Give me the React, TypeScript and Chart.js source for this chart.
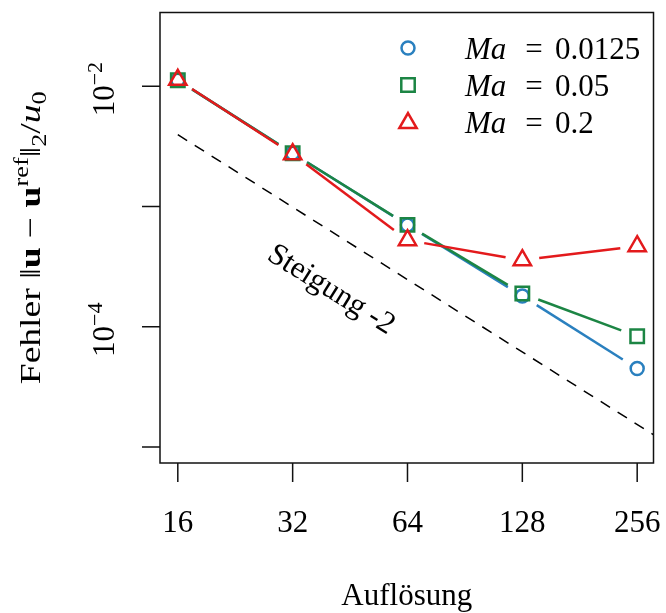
import React, { useEffect, useRef } from 'react';
import { Chart, registerables } from 'chart.js';

Chart.register(...registerables);

// ---- data ----
const resolutions = [16, 32, 64, 128, 256];
const errorMa00125 = [0.0112, 2.77e-3, 7.0e-4, 1.8e-4, 4.5e-5];
const errorMa005 = [0.0112, 2.77e-3, 7.03e-4, 1.89e-4, 8.34e-5];
const errorMa02 = [0.0113, 2.72e-3, 5.24e-4, 3.58e-4, 4.68e-4];
const slopeRefX = [16, 320];
const slopeRefY = [3.95e-3, 9.875e-6];
const maLabels = ['0.0125', '0.05', '0.2'];
const xTickLabels = ['16', '32', '64', '128', '256'];
const yTickValues = [1e-2, 1e-3, 1e-4, 1e-5];
const yTickExponents = ['\u22122', '', '\u22124', ''];
const slopeText = 'Steigung -2';
const xTitle = 'Aufl\u00f6sung';

const BLUE = '#2A80BF';
const GREEN = '#1C8544';
const RED = '#E31A1C';

const SERIF = '"Liberation Serif", "DejaVu Serif", serif';
const F = (s: number, style = '') => `${style} ${s}px ${SERIF}`.trim();

type Seg = { t: string; f: string; dy?: number };

function richWidth(ctx: CanvasRenderingContext2D, segs: Seg[]) {
  let w = 0;
  for (const s of segs) {
    ctx.font = s.f;
    w += ctx.measureText(s.t).width;
  }
  return w;
}
function drawRich(ctx: CanvasRenderingContext2D, segs: Seg[], x: number, y: number) {
  let cx = x;
  for (const s of segs) {
    ctx.font = s.f;
    ctx.fillText(s.t, cx, y + (s.dy || 0));
    cx += ctx.measureText(s.t).width;
  }
}

function drawMarker(ctx: CanvasRenderingContext2D, kind: string, x: number, y: number, color: string) {
  ctx.save();
  ctx.strokeStyle = color;
  ctx.lineWidth = 2.5;
  ctx.beginPath();
  if (kind === 'circle') {
    ctx.arc(x, y, 6.5, 0, Math.PI * 2);
  } else if (kind === 'rect') {
    const h = 9.5 * Math.SQRT1_2;
    ctx.rect(x - h, y - h, 2 * h, 2 * h);
  } else {
    const r = 10;
    for (let k = 0; k < 3; k++) {
      const a = (k * 2 * Math.PI) / 3;
      const px = x + Math.sin(a) * r;
      const py = y - Math.cos(a) * r;
      if (k === 0) ctx.moveTo(px, py);
      else ctx.lineTo(px, py);
    }
    ctx.closePath();
  }
  ctx.stroke();
  ctx.restore();
}

const GAP = 17;

const customPlugin = {
  id: 'customDecor',
  beforeDatasetDraw(chart: any, args: any) {
    const idx = args.index;
    const ds = chart.data.datasets[idx];
    if (!ds.gapLine) return;
    const meta = args.meta;
    const ctx: CanvasRenderingContext2D = chart.ctx;
    ctx.save();
    ctx.strokeStyle = ds.borderColor;
    ctx.lineWidth = 2.5;
    ctx.lineCap = 'butt';
    for (let i = 0; i < meta.data.length - 1; i++) {
      const a = meta.data[i];
      const b = meta.data[i + 1];
      const dx = b.x - a.x;
      const dy = b.y - a.y;
      const len = Math.hypot(dx, dy);
      if (len <= 2 * GAP) continue;
      const ux = dx / len;
      const uy = dy / len;
      ctx.beginPath();
      ctx.moveTo(a.x + ux * GAP, a.y + uy * GAP);
      ctx.lineTo(b.x - ux * GAP, b.y - uy * GAP);
      ctx.stroke();
    }
    ctx.restore();
  },
  afterDraw(chart: any) {
    const ctx: CanvasRenderingContext2D = chart.ctx;
    const { left, right, top, bottom } = chart.chartArea;
    const xs = chart.scales.x;
    const ys = chart.scales.y;
    ctx.save();
    ctx.fillStyle = '#000';
    ctx.strokeStyle = '#111';
    ctx.lineWidth = 1.5;
    // box
    ctx.strokeRect(left, top, right - left, bottom - top);
    // ticks
    ctx.beginPath();
    resolutions.forEach((v) => {
      const px = xs.getPixelForValue(v);
      ctx.moveTo(px, bottom);
      ctx.lineTo(px, bottom + 19);
    });
    yTickValues.forEach((v) => {
      const py = ys.getPixelForValue(v);
      ctx.moveTo(left, py);
      ctx.lineTo(left - 18, py);
    });
    ctx.stroke();
    // x tick labels
    ctx.textBaseline = 'alphabetic';
    ctx.textAlign = 'center';
    ctx.font = F(31);
    resolutions.forEach((v, i) => {
      ctx.fillText(xTickLabels[i], xs.getPixelForValue(v), 532);
    });
    // x title
    ctx.fillText(xTitle, (left + right) / 2, 605);
    ctx.textAlign = 'left';
    // y tick labels (rotated)
    yTickValues.forEach((v, i) => {
      const exp = yTickExponents[i];
      if (!exp) return;
      const py = ys.getPixelForValue(v);
      const segs: Seg[] = [
        { t: '10', f: F(31) },
        { t: exp, f: F(22), dy: -12 },
      ];
      const w = richWidth(ctx, segs);
      ctx.save();
      ctx.translate(114, py + 3);
      ctx.rotate(-Math.PI / 2);
      drawRich(ctx, segs, -w / 2, 0);
      ctx.restore();
    });
    // y title
    {
      const segs: Seg[] = [
        { t: 'Fehler ', f: F(30) },
        { t: '\u2016', f: F(30) },
        { t: 'u', f: F(30, 'bold') },
        { t: ' \u2212 ', f: F(30) },
        { t: 'u', f: F(30, 'bold') },
        { t: 'ref', f: F(21), dy: -12 },
        { t: '\u2016', f: F(30) },
        { t: '2', f: F(21), dy: 6 },
        { t: '/', f: F(30) },
        { t: 'u', f: F(30, 'italic') },
        { t: '0', f: F(21), dy: 6 },
      ];
      const w = richWidth(ctx, segs);
      const target = 293;
      const k = target / w;
      ctx.save();
      ctx.translate(40, (top + bottom) / 2);
      ctx.rotate(-Math.PI / 2);
      ctx.scale(k, 1);
      drawRich(ctx, segs, -w / 2, 0);
      ctx.restore();
    }
    // legend
    const kinds = ['circle', 'rect', 'triangle'];
    const cols = [BLUE, GREEN, RED];
    const markerY = [48, 85, 123];
    const baseY = [59, 96, 133];
    for (let i = 0; i < 3; i++) {
      drawMarker(ctx, kinds[i], 408, markerY[i], cols[i]);
      ctx.fillStyle = '#000';
      ctx.textAlign = 'left';
      ctx.font = F(31, 'italic');
      ctx.fillText('Ma', 465, baseY[i]);
      ctx.textAlign = 'center';
      ctx.font = F(31);
      ctx.fillText('=', 534, baseY[i]);
      ctx.textAlign = 'left';
      ctx.fillText(maLabels[i], 555, baseY[i]);
    }
    // slope annotation
    ctx.save();
    ctx.translate(331, 290);
    ctx.rotate((32 * Math.PI) / 180);
    ctx.textAlign = 'center';
    ctx.textBaseline = 'middle';
    ctx.font = F(31);
    ctx.fillText(slopeText, 0, 0);
    ctx.restore();
    ctx.restore();
  },
};

export default function App() {
  const ref = useRef<HTMLCanvasElement | null>(null);
  useEffect(() => {
    if (!ref.current) return;
    const pts = (ys: number[]) => resolutions.map((x, i) => ({ x, y: ys[i] }));
    const series = (data: number[], color: string, style: string, radius: number) => ({
      data: pts(data),
      showLine: false,
      gapLine: true,
      pointStyle: style,
      pointRadius: radius,
      pointHoverRadius: radius,
      borderColor: color,
      pointBorderColor: color,
      backgroundColor: 'rgba(0,0,0,0)',
      pointBackgroundColor: 'rgba(0,0,0,0)',
      borderWidth: 2.5,
      pointBorderWidth: 2.5,
    });
    const chart = new Chart(ref.current, {
      type: 'scatter',
      data: {
        datasets: [
          series(errorMa02, RED, 'triangle', 10),
          series(errorMa005, GREEN, 'rect', 9.5),
          series(errorMa00125, BLUE, 'circle', 6.5),
          {
            data: slopeRefX.map((x, i) => ({ x, y: slopeRefY[i] })),
            showLine: true,
            borderColor: '#000',
            borderWidth: 1.5,
            borderDash: [11, 9],
            pointRadius: 0,
            fill: false,
          },
        ] as any,
      },
      options: {
        responsive: false,
        animation: false,
        devicePixelRatio: 1,
        events: [],
        layout: { padding: { left: 160, top: 10, right: 8, bottom: 150 } },
        scales: {
          x: { type: 'logarithmic', display: false, bounds: 'data', min: 14.37, max: 282.5 },
          y: { type: 'logarithmic', display: false, bounds: 'data', min: Math.pow(10, -5.132), max: Math.pow(10, -1.388) },
        },
        plugins: { legend: { display: false }, tooltip: { enabled: false } },
      } as any,
      plugins: [customPlugin],
    });
    return () => chart.destroy();
  }, []);
  return (
    <div style={{ position: 'absolute', left: 0, top: 0, background: '#fff' }}>
      <canvas ref={ref} width={666} height={613} style={{ display: 'block', width: 666, height: 613 }} />
    </div>
  );
}
